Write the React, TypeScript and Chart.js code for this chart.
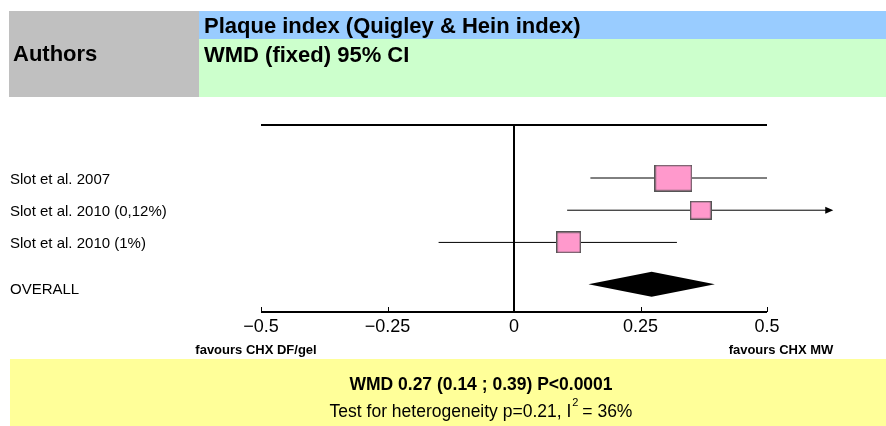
import React, { useEffect, useRef } from 'react';
import { Chart, registerables } from 'chart.js';

Chart.register(...registerables);

// ---- data ----
const STUDY_LABELS = ['Slot et al. 2007', 'Slot et al. 2010 (0,12%)', 'Slot et al. 2010 (1%)'];
const EFFECTS = [0.315, 0.369, 0.108];
const CI_LOW = [0.151, 0.105, -0.149];
const CI_HIGH = [0.5, 0.627, 0.322];
const OVERALL_LABEL = 'OVERALL';
const OVERALL_EFFECT = 0.272;
const OVERALL_LOW = 0.147;
const OVERALL_HIGH = 0.397;
const X_TICKS = [-0.5, -0.25, 0, 0.25, 0.5];
const X_TICK_LABELS = ['\u22120.5', '\u22120.25', '0', '0.25', '0.5'];
const AUTHORS_HEADER = 'Authors';
const TITLE = 'Plaque index (Quigley & Hein index)';
const SUBTITLE = 'WMD (fixed) 95% CI';
const FAVOURS_LEFT = 'favours CHX DF/gel';
const FAVOURS_RIGHT = 'favours CHX MW';
const SUMMARY = 'WMD 0.27 (0.14 ; 0.39) P<0.0001';
const HETERO_PRE = 'Test for heterogeneity p=0.21, I';
const HETERO_SUP = '2';
const HETERO_POST = ' = 36%';

// ---- layout / style ----
const W = 886;
const H = 426;
const ROW_Y = [1, 2, 3];
const OVERALL_Y = 4.3;
const DIAMOND_HALF = 0.388;
const BOX_SIZES = [
  [38, 27],
  [22, 19],
  [25, 22],
];
const FONT = "'Liberation Sans', Arial, Helvetica, sans-serif";
const PINK = '#ff99cc';

function makeBox(w: number, h: number): HTMLCanvasElement {
  const c = document.createElement('canvas');
  c.width = w;
  c.height = h;
  const g = c.getContext('2d')!;
  g.fillStyle = PINK;
  g.fillRect(0, 0, w, h);
  g.strokeStyle = '#555555';
  g.lineWidth = 1.4;
  g.strokeRect(0.7, 0.7, w - 1.4, h - 1.4);
  return c;
}

const decorPlugin = {
  id: 'forestDecor',
  beforeDraw(chart: any) {
    const ctx = chart.ctx as CanvasRenderingContext2D;
    ctx.save();
    ctx.fillStyle = '#ffffff';
    ctx.fillRect(0, 0, W, H);
    // header boxes
    ctx.fillStyle = '#c0c0c0';
    ctx.fillRect(9, 11, 190, 86);
    ctx.fillStyle = '#99ccff';
    ctx.fillRect(199, 11, W - 199, 28);
    ctx.fillStyle = '#ccffcc';
    ctx.fillRect(199, 39, W - 199, 58);
    // footer box
    ctx.fillStyle = '#ffff99';
    ctx.fillRect(10, 359, W - 10, H - 359);

    ctx.fillStyle = '#000000';
    ctx.textAlign = 'left';
    ctx.textBaseline = 'alphabetic';
    ctx.font = `bold 22px ${FONT}`;
    ctx.fillText(AUTHORS_HEADER, 13, 61);
    ctx.fillText(TITLE, 204, 33);
    ctx.fillText(SUBTITLE, 204, 62);

    // footer text
    ctx.textAlign = 'center';
    ctx.font = `bold 17.5px ${FONT}`;
    ctx.fillText(SUMMARY, 481, 390);
    ctx.textAlign = 'left';
    ctx.font = `17.5px ${FONT}`;
    const w1 = ctx.measureText(HETERO_PRE).width;
    const w3 = ctx.measureText(HETERO_POST).width;
    ctx.font = `11px ${FONT}`;
    const w2 = ctx.measureText(HETERO_SUP).width;
    const start = 481 - (w1 + w2 + w3) / 2;
    ctx.font = `17.5px ${FONT}`;
    ctx.fillText(HETERO_PRE, start, 417);
    ctx.fillText(HETERO_POST, start + w1 + w2, 417);
    ctx.font = `11px ${FONT}`;
    ctx.fillText(HETERO_SUP, start + w1 + 1, 406);
    ctx.restore();
  },
  beforeDatasetsDraw(chart: any) {
    const ctx = chart.ctx as CanvasRenderingContext2D;
    const xs = chart.scales.x;
    const ys = chart.scales.y;
    const { top, bottom, left, right } = chart.chartArea;
    ctx.save();
    ctx.strokeStyle = '#000000';
    ctx.lineWidth = 2;
    ctx.beginPath();
    ctx.moveTo(left, top);
    ctx.lineTo(right, top);
    ctx.moveTo(left, bottom);
    ctx.lineTo(right, bottom);
    const x0 = xs.getPixelForValue(0);
    ctx.moveTo(x0, top);
    ctx.lineTo(x0, bottom);
    ctx.stroke();
    ctx.lineWidth = 1;
    ctx.beginPath();
    X_TICKS.forEach((v) => {
      if (v === 0) return;
      const px = Math.round(xs.getPixelForValue(v)) + 0.5;
      ctx.moveTo(px, bottom);
      ctx.lineTo(px, bottom - 5);
    });
    ctx.stroke();

    ctx.fillStyle = '#000000';
    ctx.textAlign = 'center';
    ctx.textBaseline = 'alphabetic';
    ctx.font = `18px ${FONT}`;
    X_TICKS.forEach((v, i) => {
      ctx.fillText(X_TICK_LABELS[i], xs.getPixelForValue(v), bottom + 20);
    });
    ctx.font = `bold 13px ${FONT}`;
    ctx.fillText(FAVOURS_LEFT, xs.getPixelForValue(X_TICKS[0]) - 5, bottom + 42);
    ctx.fillText(FAVOURS_RIGHT, xs.getPixelForValue(X_TICKS[X_TICKS.length - 1]) + 14, bottom + 42);

    ctx.textAlign = 'left';
    ctx.font = `15px ${FONT}`;
    STUDY_LABELS.forEach((lab, i) => {
      ctx.fillText(lab, 10, ys.getPixelForValue(ROW_Y[i]) + 6);
    });
    ctx.fillText(OVERALL_LABEL, 10, ys.getPixelForValue(OVERALL_Y) + 10);
    ctx.restore();
  },
  afterDatasetsDraw(chart: any) {
    // arrowheads for confidence intervals running past the axis maximum
    const ctx = chart.ctx as CanvasRenderingContext2D;
    const xs = chart.scales.x;
    const ys = chart.scales.y;
    ctx.save();
    ctx.fillStyle = '#000000';
    STUDY_LABELS.forEach((_, i) => {
      if (CI_HIGH[i] <= xs.max) return;
      const px = xs.getPixelForValue(CI_HIGH[i]);
      const py = ys.getPixelForValue(ROW_Y[i]);
      ctx.beginPath();
      ctx.moveTo(px + 2, py);
      ctx.lineTo(px - 6, py - 3.5);
      ctx.lineTo(px - 6, py + 3.5);
      ctx.closePath();
      ctx.fill();
    });
    ctx.restore();
  },
};

export default function App() {
  const ref = useRef<HTMLCanvasElement | null>(null);
  useEffect(() => {
    if (!ref.current) return;
    const datasets: any[] = [];
    // CI lines
    STUDY_LABELS.forEach((lab, i) => {
      datasets.push({
        label: lab + ' CI',
        data: [
          { x: CI_LOW[i], y: ROW_Y[i] },
          { x: CI_HIGH[i], y: ROW_Y[i] },
        ],
        borderColor: '#000000',
        borderWidth: 1,
        pointRadius: 0,
        fill: false,
        clip: false,
        order: 3,
      });
    });
    // effect boxes
    datasets.push({
      label: 'effects',
      data: STUDY_LABELS.map((_, i) => ({ x: EFFECTS[i], y: ROW_Y[i] })),
      showLine: false,
      pointStyle: BOX_SIZES.map(([w, h]) => makeBox(w, h)),
      pointRadius: 10,
      order: 0,
    });
    // overall diamond
    datasets.push({
      label: 'diamond top',
      data: [
        { x: OVERALL_LOW, y: OVERALL_Y },
        { x: OVERALL_EFFECT, y: OVERALL_Y - DIAMOND_HALF },
        { x: OVERALL_HIGH, y: OVERALL_Y },
      ],
      borderWidth: 0,
      borderColor: 'rgba(0,0,0,0)',
      pointRadius: 0,
      fill: '+1',
      backgroundColor: '#000000',
      order: 1,
    });
    datasets.push({
      label: 'diamond bottom',
      data: [
        { x: OVERALL_LOW, y: OVERALL_Y },
        { x: OVERALL_EFFECT, y: OVERALL_Y + DIAMOND_HALF },
        { x: OVERALL_HIGH, y: OVERALL_Y },
      ],
      borderWidth: 0,
      borderColor: 'rgba(0,0,0,0)',
      pointRadius: 0,
      fill: false,
      backgroundColor: '#000000',
      order: 1,
    });

    const chart = new Chart(ref.current, {
      type: 'line',
      data: { datasets },
      options: {
        responsive: false,
        animation: false,
        devicePixelRatio: 1,
        events: [],
        layout: { padding: { left: 261, right: W - 767, top: 125, bottom: H - 312 } },
        elements: { line: { tension: 0 } },
        plugins: { legend: { display: false }, tooltip: { enabled: false }, title: { display: false } },
        scales: {
          x: { type: 'linear', min: -0.5, max: 0.5, display: false },
          y: { type: 'linear', min: -0.646, max: 5.161, reverse: true, display: false },
        },
      },
      plugins: [decorPlugin],
    } as any);
    return () => chart.destroy();
  }, []);
  return (
    <div style={{ position: 'absolute', left: 0, top: 0, width: W, height: H }}>
      <canvas ref={ref} width={W} height={H} style={{ display: 'block', width: W, height: H }} />
    </div>
  );
}
